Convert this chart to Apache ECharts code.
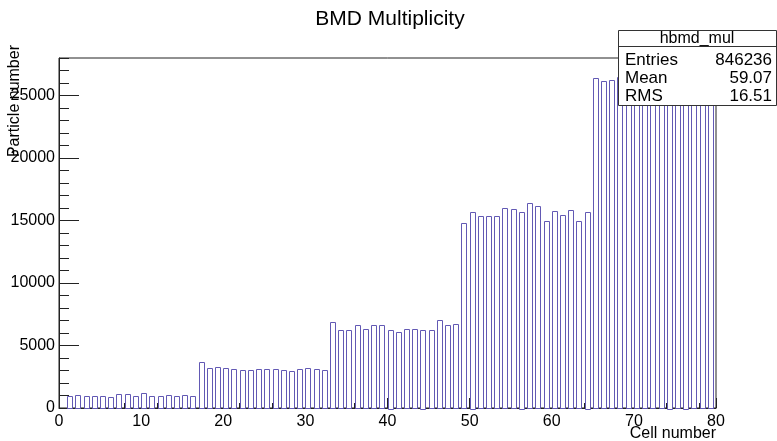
<!DOCTYPE html>
<html>
<head>
<meta charset="utf-8">
<script src="https://cdn.jsdelivr.net/npm/echarts@6/dist/echarts.min.js"></script>
<style>
  html, body { margin: 0; padding: 0; background: #fff; }
  #bmd { width: 777px; height: 441px; }
</style>
</head>
<body>
<div id="bmd"></div>
<script>
// cell index of every filled bin
var cells = [1, 2, 3, 4, 5, 6, 7, 8, 9, 10, 11, 12, 13, 14, 15, 16, 17, 18, 19, 20,
  21, 22, 23, 24, 25, 26, 27, 28, 29, 30, 31, 32, 33, 34, 35, 36, 37, 38, 39, 40,
  41, 42, 43, 44, 45, 46, 47, 48, 49, 50, 51, 52, 53, 54, 55, 56, 57, 58, 59, 60,
  61, 62, 63, 64, 65, 66, 67, 68, 69, 70, 71, 72, 73, 74, 75, 76, 77, 78, 79];
// particle counts (bins 68-79 sit under the stats box)
var counts = [960, 1040, 960, 930, 930, 860, 1090, 1090, 960, 1200, 960, 960, 1040, 930, 1010, 960,
  3710, 3200, 3260, 3200, 3120, 3030, 3030, 3100, 3100, 3100, 3020, 2960, 3100, 3180, 3100, 3020,
  6860, 6220, 6220, 6620, 6330, 6620, 6620, 6280, 6090, 6300, 6330, 6280, 6250, 7020, 6620, 6700,
  14790, 15720, 15350, 15350, 15380, 15970, 15890, 15720, 16390, 16150, 14960, 15750, 15430, 15810, 14960, 15720,
  26430, 26190, 26270, 26500, 26100, 26700, 26300, 26000, 26400, 26200, 25900, 26600, 26300, 26100, 26400];

var statsRows = [['Entries', '846236'], ['Mean', '59.07'], ['RMS', '16.51']];

var font = 'Liberation Sans, Arial, Helvetica, sans-serif';
var barColor = '#6259b4';

var chart = echarts.init(document.getElementById('bmd'));

var data = cells.map(function (c, i) { return [c, counts[i]]; });

// stats box elements
var statsGraphic = [
  { type: 'rect', z: 100, shape: { x: 618.5, y: 30.5, width: 158, height: 75 },
    style: { fill: '#fff', stroke: '#333', lineWidth: 1 } },
  { type: 'line', z: 101, shape: { x1: 618.5, y1: 46.5, x2: 777, y2: 46.5 },
    style: { stroke: '#333', lineWidth: 1 } },
  { type: 'text', z: 101, x: 697, y: 38.5,
    style: { text: 'hbmd_mul', font: '16px ' + font, fill: '#000', textAlign: 'center', textVerticalAlign: 'middle' } }
];
statsRows.forEach(function (r, i) {
  var yy = 60 + i * 18;
  statsGraphic.push({ type: 'text', z: 101, x: 625, y: yy,
    style: { text: r[0], font: '17px ' + font, fill: '#000', textAlign: 'left', textVerticalAlign: 'middle' } });
  statsGraphic.push({ type: 'text', z: 101, x: 772, y: yy,
    style: { text: r[1], font: '17px ' + font, fill: '#000', textAlign: 'right', textVerticalAlign: 'middle' } });
});

chart.setOption({
  animation: false,
  backgroundColor: '#fff',
  grid: {
    left: 59, right: 61, top: 58, bottom: 33,
    show: true, borderColor: '#222', borderWidth: 1,
    containLabel: false, outerBoundsMode: 'none'
  },
  xAxis: {
    type: 'value', min: 0, max: 80, interval: 10,
    axisLine: { show: true, onZero: false, lineStyle: { color: '#222', width: 1 } },
    axisTick: { show: true, inside: true, length: 10, lineStyle: { color: '#222' } },
    minorTick: { show: true, splitNumber: 5, length: 5, lineStyle: { color: '#222' } },
    splitLine: { show: false },
    axisLabel: { color: '#000', fontSize: 16, fontFamily: font, margin: 6 }
  },
  yAxis: [
    {
      type: 'value', min: 0, max: 28000, interval: 5000, position: 'left',
      axisLine: { show: true, onZero: false, lineStyle: { color: '#222', width: 1 } },
      axisTick: { show: true, inside: true, length: 20, lineStyle: { color: '#222' } },
      splitLine: { show: false },
      axisLabel: {
        color: '#000', fontSize: 16, fontFamily: font, margin: 4, showMaxLabel: false,
        formatter: function (v) { return String(v); }
      }
    },
    {
      // minor ticks only
      type: 'value', min: 0, max: 28000, interval: 1000, position: 'left',
      axisLine: { show: false },
      axisTick: { show: true, inside: true, length: 10, lineStyle: { color: '#222' } },
      splitLine: { show: false },
      axisLabel: { show: false }
    }
  ],
  graphic: [
    { type: 'text', z: 100, x: 390, y: 19,
      style: { text: 'BMD Multiplicity', font: '21px ' + font, fill: '#000', textAlign: 'center', textVerticalAlign: 'middle' } },
    { type: 'text', z: 100, x: 716, y: 434,
      style: { text: 'Cell number', font: '16px ' + font, fill: '#000', textAlign: 'right', textVerticalAlign: 'middle' } },
    { type: 'text', z: 100, x: 23, y: 45, rotation: Math.PI / 2,
      style: { text: 'Particle number', font: '16px ' + font, fill: '#000', textAlign: 'right', textVerticalAlign: 'bottom' } }
  ].concat(statsGraphic),
  series: [{
    type: 'custom',
    name: 'hbmd_mul',
    xAxisIndex: 0,
    yAxisIndex: 0,
    data: data,
    renderItem: function (params, api) {
      var x = api.value(0);
      var p0 = api.coord([x, 0]);
      var p1 = api.coord([x + 0.6, api.value(1)]);
      return {
        type: 'rect',
        shape: {
          x: Math.round(p0[0]) + 0.5,
          y: Math.round(p1[1]) + 0.5,
          width: Math.round(p1[0] - p0[0]),
          height: Math.round(p0[1] - p1[1])
        },
        style: { fill: '#fff', stroke: barColor, lineWidth: 1 }
      };
    }
  }]
});
</script>
</body>
</html>
